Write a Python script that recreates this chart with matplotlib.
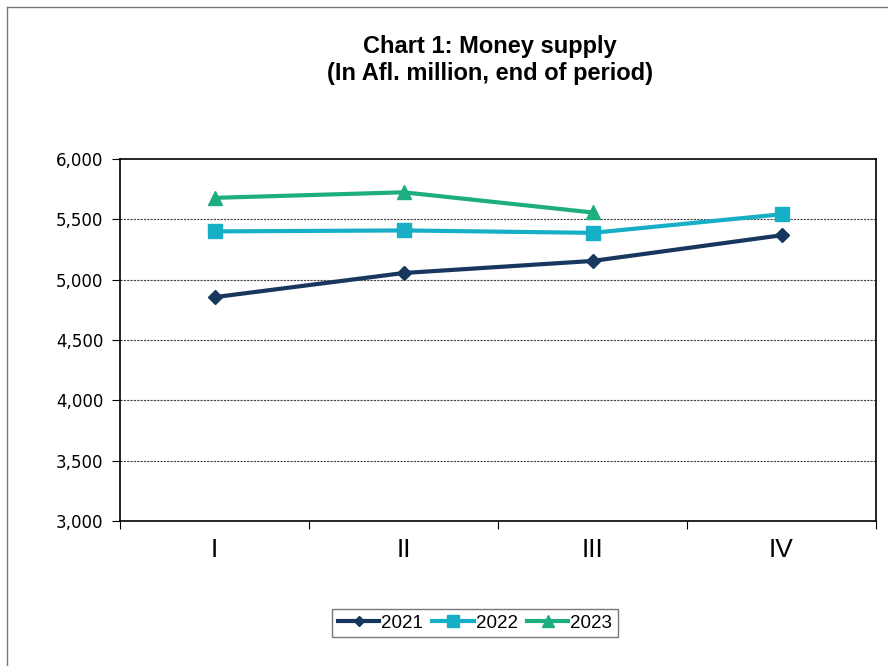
import matplotlib.pyplot as plt
from matplotlib.lines import Line2D
from matplotlib.ticker import FuncFormatter

quarters = ['I', 'II', 'III', 'IV']
y2021 = [4855, 5055, 5155, 5368]
y2022 = [5400, 5408, 5388, 5542]
y2023 = [5678, 5724, 5557]

fig = plt.figure(figsize=(8.88, 6.66), dpi=100)
ax = fig.add_axes([120 / 888, 145 / 666, 756 / 888, 362 / 666])

x = [i + 0.5 for i in range(len(quarters))]
ax.plot(x, y2021, color='#17375E', lw=3, marker='D', ms=7, label='2021')
ax.plot(x, y2022, color='#17AFC6', lw=3, marker='s', ms=10, label='2022')
ax.plot(x[:len(y2023)], y2023, color='#1EAD80', lw=3, marker='^', ms=10, label='2023')

ax.set_xlim(0, 4)
ax.set_ylim(3000, 6000)
ax.set_yticks(range(3000, 6001, 500))
ax.yaxis.set_major_formatter(FuncFormatter(lambda v, p: f'{int(v):,}'))
ax.set_xticks(range(5))
ax.set_xticklabels([])
ax.set_xticks(x, minor=True)
ax.set_xticklabels(quarters, minor=True, fontsize=19, family='Liberation Sans')
ax.tick_params(axis='x', which='minor', length=0, pad=12)
ax.tick_params(axis='x', which='major', length=6, direction='out')
ax.tick_params(axis='y', length=6, direction='out', labelsize=12, pad=6)

for v in range(3500, 6000, 500):
    ax.axhline(v, color='#444444', lw=0.8, ls=(0, (2, 1)), zorder=0)

for s in ax.spines.values():
    s.set_linewidth(1.2)

fig.text(0.552, 0.948, 'Chart 1: Money supply\n(In Afl. million, end of period)',
         ha='center', va='top', fontsize=17, fontweight='bold', linespacing=1.25,
         family='Liberation Sans')

leg = ax.legend(loc='center', bbox_to_anchor=(475 / 888, 1 - 623 / 666), bbox_transform=fig.transFigure,
                ncol=3, frameon=True, fancybox=False, edgecolor='#555555',
                prop={'family': 'Liberation Sans', 'size': 13.5},
                handlelength=2.2, handletextpad=0.1, columnspacing=0.5, borderpad=0.3, markerscale=0.8)
leg.get_frame().set_linewidth(1.0)

# outer chart frame
fig.add_artist(Line2D([7 / 888, 7 / 888], [0, 1 - 7 / 666], color='#777777', lw=1, transform=fig.transFigure))
fig.add_artist(Line2D([7 / 888, 1], [1 - 7 / 666, 1 - 7 / 666], color='#777777', lw=1, transform=fig.transFigure))

fig.savefig('out.png', dpi=100)
